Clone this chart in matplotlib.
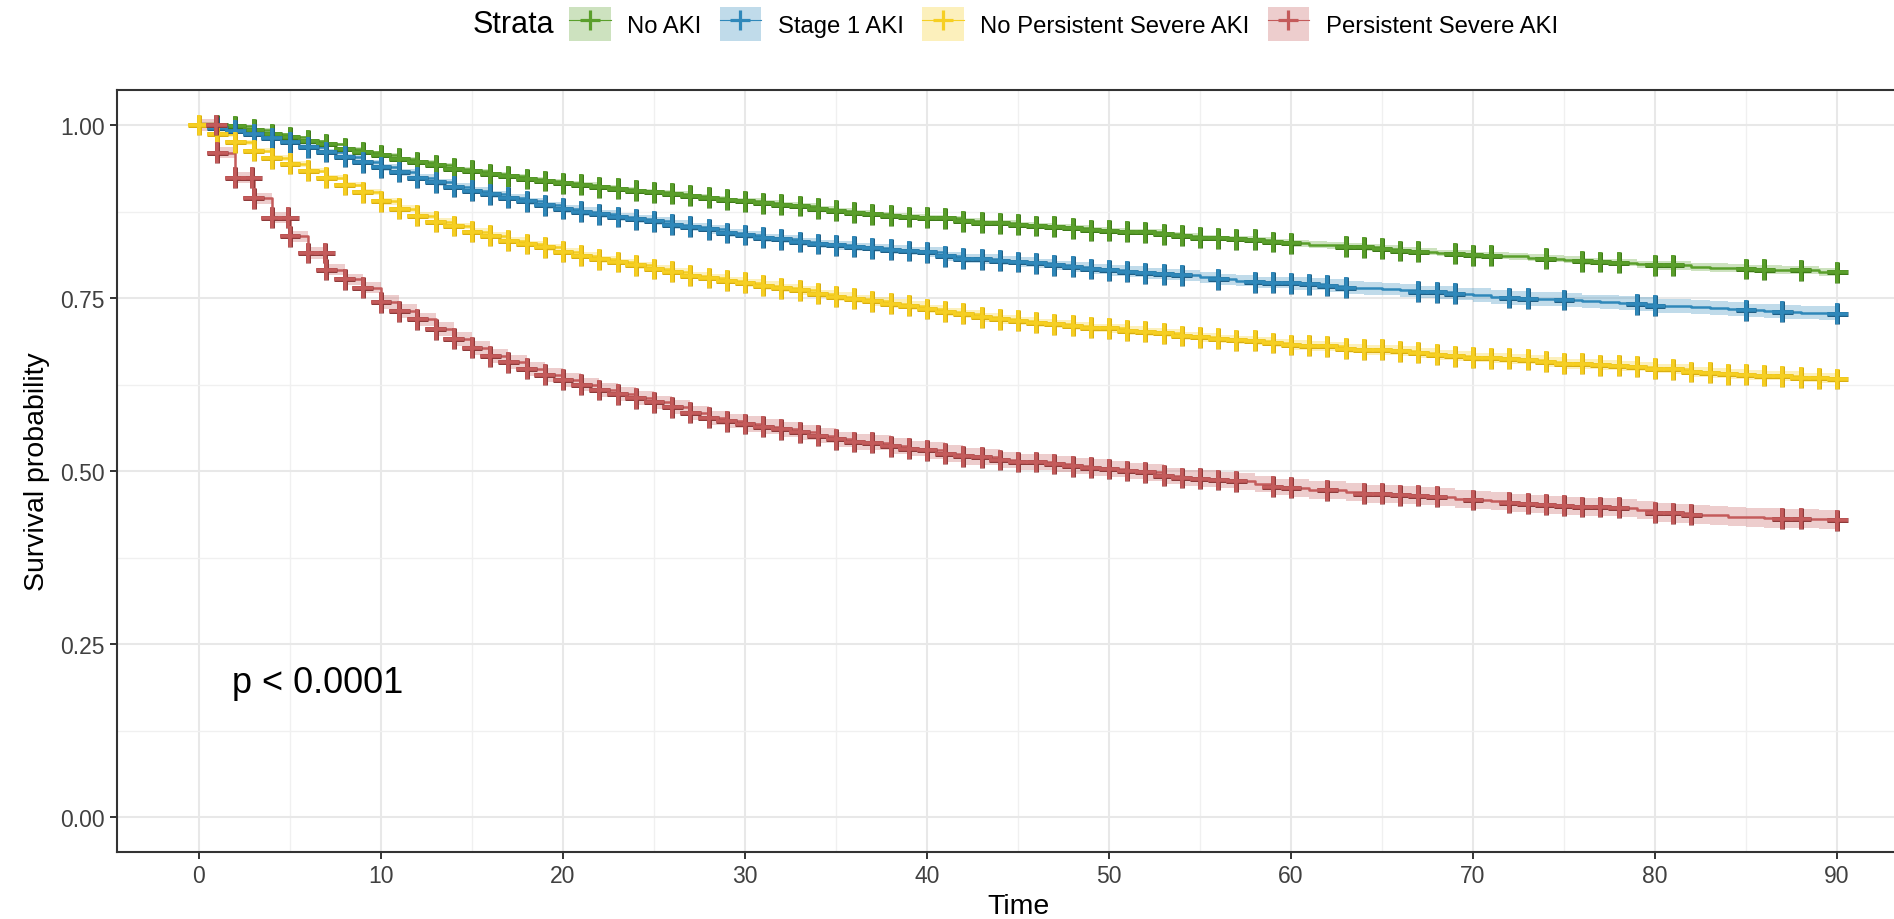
import numpy as np
import matplotlib
matplotlib.use("Agg")
import matplotlib.pyplot as plt
from matplotlib.lines import Line2D
from matplotlib.patches import Patch
import matplotlib.patheffects as pe

plt.rcParams['font.family'] = ['Liberation Sans', 'DejaVu Sans']

# ---------------- data ----------------
strata = ["No AKI", "Stage 1 AKI", "No Persistent Severe AKI", "Persistent Severe AKI"]
colors = ["#5A9F2B", "#2F88BA", "#F6CF22", "#C45B5B"]
edge_colors = ["#3E7A18", "#1F5F86", "#D9AE10", "#8E3A3A"]

days = list(range(0, 91))

surv_no_aki = [1.000, 1.000, 0.998, 0.993, 0.987, 0.982, 0.977, 0.972, 0.966, 0.961,
               0.956, 0.951, 0.946, 0.942, 0.937, 0.934, 0.929, 0.926, 0.922, 0.919,
               0.916, 0.914, 0.910, 0.908, 0.905, 0.903, 0.901, 0.898, 0.895, 0.892,
               0.890, 0.887, 0.885, 0.883, 0.879, 0.876, 0.873, 0.871, 0.869, 0.867,
               0.866, 0.865, 0.861, 0.859, 0.858, 0.856, 0.854, 0.853, 0.851, 0.848,
               0.847, 0.846, 0.845, 0.842, 0.840, 0.837, 0.836, 0.835, 0.834, 0.831,
               0.829, 0.827, 0.826, 0.824, 0.823, 0.821, 0.818, 0.817, 0.815, 0.814,
               0.812, 0.811, 0.810, 0.808, 0.807, 0.805, 0.803, 0.802, 0.801, 0.799,
               0.797, 0.797, 0.795, 0.794, 0.793, 0.792, 0.791, 0.790, 0.790, 0.788,
               0.787]

surv_stage1 = [1.000, 0.996, 0.992, 0.987, 0.981, 0.975, 0.968, 0.961, 0.954, 0.946,
               0.939, 0.932, 0.924, 0.917, 0.911, 0.905, 0.900, 0.895, 0.890, 0.884,
               0.879, 0.875, 0.871, 0.867, 0.864, 0.861, 0.856, 0.853, 0.849, 0.844,
               0.841, 0.837, 0.835, 0.831, 0.828, 0.826, 0.824, 0.822, 0.820, 0.818,
               0.816, 0.810, 0.807, 0.806, 0.804, 0.802, 0.800, 0.797, 0.795, 0.792,
               0.790, 0.788, 0.786, 0.784, 0.783, 0.780, 0.777, 0.775, 0.773, 0.772,
               0.771, 0.770, 0.768, 0.765, 0.764, 0.763, 0.761, 0.759, 0.758, 0.756,
               0.754, 0.752, 0.750, 0.749, 0.748, 0.747, 0.745, 0.744, 0.743, 0.741,
               0.739, 0.738, 0.737, 0.735, 0.734, 0.732, 0.731, 0.730, 0.729, 0.728,
               0.727]

surv_no_persist = [1.000, 0.987, 0.975, 0.963, 0.952, 0.944, 0.934, 0.924, 0.914, 0.903,
                   0.890, 0.879, 0.869, 0.860, 0.854, 0.846, 0.840, 0.833, 0.828, 0.823,
                   0.817, 0.811, 0.806, 0.802, 0.797, 0.792, 0.788, 0.782, 0.779, 0.775,
                   0.772, 0.768, 0.764, 0.761, 0.756, 0.752, 0.749, 0.745, 0.742, 0.739,
                   0.734, 0.730, 0.727, 0.722, 0.719, 0.717, 0.714, 0.712, 0.710, 0.707,
                   0.706, 0.703, 0.701, 0.699, 0.695, 0.693, 0.691, 0.689, 0.688, 0.685,
                   0.682, 0.681, 0.680, 0.677, 0.675, 0.675, 0.673, 0.671, 0.668, 0.666,
                   0.664, 0.663, 0.662, 0.661, 0.658, 0.655, 0.655, 0.653, 0.652, 0.651,
                   0.648, 0.647, 0.643, 0.642, 0.640, 0.639, 0.638, 0.637, 0.635, 0.634,
                   0.633]

surv_persist = [1.000, 0.960, 0.924, 0.894, 0.866, 0.839, 0.815, 0.791, 0.777, 0.765,
                0.744, 0.731, 0.719, 0.705, 0.691, 0.678, 0.666, 0.657, 0.648, 0.639,
                0.632, 0.625, 0.617, 0.611, 0.605, 0.599, 0.592, 0.584, 0.577, 0.572,
                0.568, 0.564, 0.560, 0.556, 0.551, 0.546, 0.542, 0.541, 0.536, 0.532,
                0.530, 0.525, 0.521, 0.520, 0.516, 0.513, 0.513, 0.510, 0.507, 0.505,
                0.503, 0.500, 0.498, 0.493, 0.490, 0.489, 0.487, 0.485, 0.481, 0.477,
                0.476, 0.473, 0.472, 0.469, 0.467, 0.467, 0.465, 0.464, 0.463, 0.460,
                0.458, 0.456, 0.454, 0.453, 0.451, 0.450, 0.448, 0.448, 0.447, 0.443,
                0.440, 0.439, 0.437, 0.436, 0.434, 0.433, 0.432, 0.431, 0.431, 0.430,
                0.429]

# confidence band half-widths per 10-day block
ci_no_aki = [0.002, 0.003, 0.003, 0.004, 0.004, 0.004, 0.005, 0.005, 0.006, 0.006]
ci_stage1 = [0.004, 0.005, 0.006, 0.006, 0.007, 0.008, 0.009, 0.010, 0.010, 0.010]
ci_no_persist = [0.004, 0.005, 0.005, 0.006, 0.006, 0.006, 0.007, 0.007, 0.007, 0.007]
ci_persist = [0.008, 0.010, 0.010, 0.011, 0.012, 0.012, 0.013, 0.013, 0.014, 0.014]

# censoring times (marks)
cens_no_aki = list(range(1, 61)) + [63, 64, 65, 66, 67, 69, 70, 71, 74, 76, 77, 78,
                                     80, 81, 85, 86, 88, 90]
cens_stage1 = list(range(1, 55)) + [56, 58, 59, 60, 61, 62, 63, 67, 68, 69, 72, 73,
                                     75, 79, 80, 85, 87, 90]
cens_no_persist = list(range(0, 91))
cens_persist = [0.95, 1, 2, 2.9, 3, 4, 4.9, 5, 6, 6.9, 7] + list(range(8, 58)) + \
               [59, 60, 62, 64, 65, 66, 67, 68, 70, 72, 73, 74, 75, 76, 77, 78,
                80, 81, 82, 87, 88, 90]

p_text = "p < 0.0001"

x_ticks = [0, 10, 20, 30, 40, 50, 60, 70, 80, 90]
y_ticks = [0.00, 0.25, 0.50, 0.75, 1.00]
y_ticklabels = ["0.00", "0.25", "0.50", "0.75", "1.00"]

survs = [surv_no_aki, surv_stage1, surv_no_persist, surv_persist]
cis = [ci_no_aki, ci_stage1, ci_no_persist, ci_persist]
cens = [cens_no_aki, cens_stage1, cens_no_persist, cens_persist]

# ---------------- figure ----------------
W, H = 1894, 920
fig = plt.figure(figsize=(W / 100, H / 100), dpi=100)
ax = fig.add_axes([117 / W, 1 - 852.6 / H, 1802 / W, (852.6 - 91.4) / H])

ax.set_xlim(-4.5, 94.5)
ax.set_ylim(-0.05, 1.05)

ax.set_xticks(x_ticks)
ax.set_yticks(y_ticks)
ax.set_yticklabels(y_ticklabels)
ax.set_xticks([5, 15, 25, 35, 45, 55, 65, 75, 85], minor=True)
ax.set_yticks([0.125, 0.375, 0.625, 0.875], minor=True)
ax.grid(True, which='major', color='#E8E8E8', lw=1.5, zorder=0)
ax.grid(True, which='minor', color='#F0F0F0', lw=1.0, zorder=0)
ax.set_axisbelow(True)
ax.tick_params(which='minor', length=0)
ax.tick_params(which='major', length=5, width=1.4, color='#333333',
               labelsize=16.5, labelcolor='#404040', pad=4)

for sp in ax.spines.values():
    sp.set_color('#333333')
    sp.set_linewidth(1.5)

t = np.array(days, dtype=float)
for s, ci, cz, col, ecol in zip(survs, cis, cens, colors, edge_colors):
    s = np.array(s)
    hw = np.array(ci)[(np.array(days) // 10)]
    ax.fill_between(t, s - hw, s + hw, step='post', color=col, alpha=0.3,
                    lw=0, zorder=2)
    ax.step(t, s, where='post', color=col, lw=1.8, zorder=3)
    cz = np.array(cz, dtype=float)
    idx = np.searchsorted(t, cz, side='right') - 1
    ax.plot(cz, s[idx], ls='none', marker='+', markersize=15, mew=2.6,
            color=col, zorder=4,
            path_effects=[pe.Stroke(linewidth=3.6, foreground=ecol), pe.Normal()])

ax.text(1.8, 0.195, p_text, fontsize=26, ha='left', va='center', color='black')

ax.set_xlabel("Time", fontsize=20.5, labelpad=4)
ax.set_ylabel("Survival probability", fontsize=20.5, labelpad=7)

# legend
handles = []
for col, ecol in zip(colors, edge_colors):
    handles.append((Patch(facecolor=col, alpha=0.3, edgecolor='none'),
                    Line2D([], [], color=col, lw=0.8, marker='+', markersize=15,
                           mew=2.3)))
fig.text(473 / W, 1 - 25 / H, "Strata", fontsize=22, ha='left', va='center')
fig.legend(handles, strata, loc='center', bbox_to_anchor=(1063.5 / W, 1 - 25 / H),
           ncol=4, frameon=False, fontsize=17.2, handlelength=1.75,
           handleheight=1.75, handletextpad=0.7, columnspacing=0.75,
           borderpad=0, borderaxespad=0)

fig.savefig("out.png", dpi=100)
